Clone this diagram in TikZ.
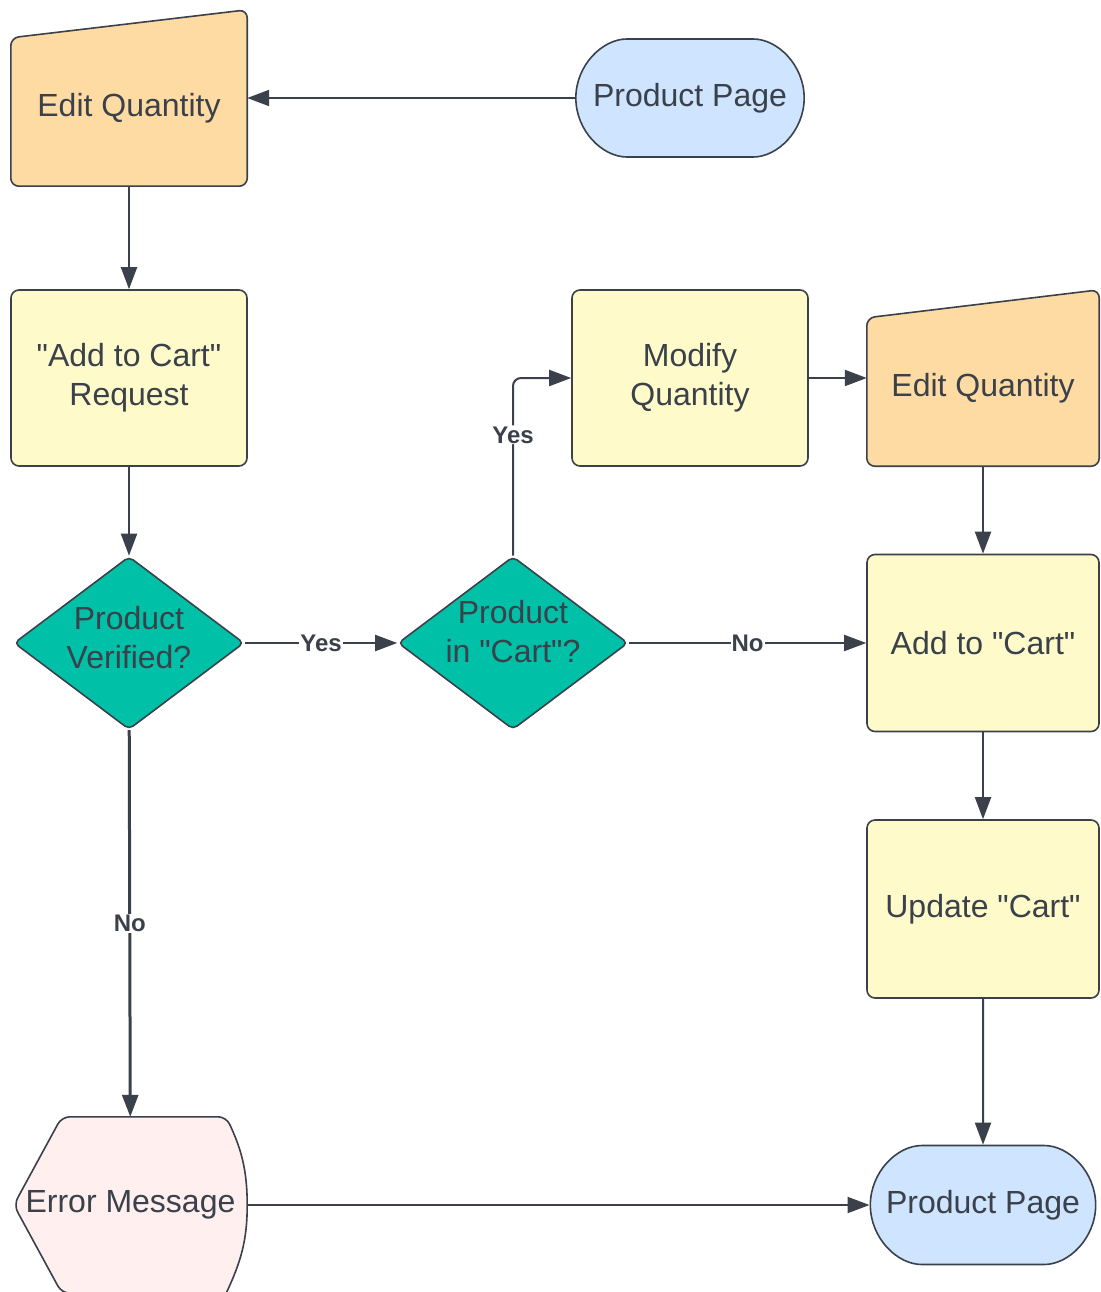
\documentclass[tikz,border=0pt]{standalone}
\usepackage{fontspec}
\setmainfont{Liberation Sans}[Ligatures=TeXOff]
\usetikzlibrary{arrows.meta,shapes.geometric,shapes.misc,calc}
\definecolor{lineclr}{HTML}{3A414A}
\definecolor{orangefill}{HTML}{FFDBA4}
\definecolor{yellowfill}{HTML}{FEFAC9}
\definecolor{bluefill}{HTML}{CFE4FF}
\definecolor{tealfill}{HTML}{00C1A7}
\definecolor{pinkfill}{HTML}{FFEFEE}
\pgfdeclarelayer{background}
\pgfsetlayers{background,main}
\newcommand{\manualin}[1]{%
	\begin{pgfonlayer}{background}
		\filldraw[shapeline,fill=orangefill] (#1.south west) -- ($(#1.north west)+(0,28)$)
			-- (#1.north east) -- (#1.south east) -- cycle;
	\end{pgfonlayer}}
\newcommand{\errdisplay}[1]{%
	\begin{pgfonlayer}{background}
		\filldraw[shapeline,fill=pinkfill] (#1.west) -- ($(#1.north west)+(48,0)$)
			-- ($(#1.north east)+(-21,0)$) [rounded corners=0pt] to[out=-65,in=90] (#1.east)
			to[out=-90,in=65] ($(#1.south east)+(-21,0)$) [rounded corners=8pt] -- ($(#1.south west)+(48,0)$) -- cycle;
	\end{pgfonlayer}}

\begin{document}
\begin{tikzpicture}[x=1pt,y=-1pt]
	\tikzset{every node/.style={text=lineclr,font=\fontsize{32}{39}\selectfont,align=center}}
	\tikzset{shapeline/.style={draw=lineclr,line width=1.6pt,rounded corners=8pt}}
	\tikzset{box/.style={shapeline,rectangle,fill=yellowfill,minimum width=236pt,minimum height=176pt}}
	\tikzset{terminal/.style={shapeline,rounded rectangle,fill=bluefill,minimum width=235pt,minimum height=118pt}}
	\tikzset{decision/.style={shapeline,diamond,aspect=1.33,inner sep=0pt,fill=tealfill,rounded corners=5pt,minimum width=230pt,minimum height=173pt}}
	\tikzset{inputbox/.style={rectangle,minimum width=236pt,minimum height=176pt,text height=44pt,text depth=7pt}}
	\tikzset{displaybox/.style={rectangle,minimum width=233pt,minimum height=176pt}}
	\tikzset{conn/.style={draw=lineclr,line width=2pt,-{Triangle[length=22pt,width=16pt]}}}
	\tikzset{lbl/.style={font=\bfseries\fontsize{24}{24}\selectfont,fill=white,inner sep=1pt}}
	\clip (0,0) rectangle (1100,1292);
	% nodes
	\node[inputbox] (editqty) at (129,98) {Edit Quantity};
	\manualin{editqty}
	\node[terminal] (prodpage) at (690,98) {Product Page};
	\node[box] (addreq) at (129,378) {"Add to Cart"\\Request};
	\node[box] (modqty) at (690,378) {Modify\\Quantity};
	\node[inputbox,minimum width=232pt] (editqtyb) at (983,378) {Edit Quantity};
	\manualin{editqtyb}
	\node[decision,label={[yshift=5pt]center:{Product\\Verified?}}] (verified) at (129,643) {};
	\node[decision,label={[yshift=11pt]center:{Product\\in "Cart"?}}] (incart) at (513,643) {};
	\node[box,minimum width=232pt,minimum height=177pt] (addcart) at (983,643) {Add to "Cart"};
	\node[box,minimum width=232pt,minimum height=178pt] (updcart) at (983,909) {Update "Cart"};
	\node[terminal,minimum width=232pt,minimum height=119pt] (prodpageb) at (983,1205) {Product Page};
	\node[displaybox] (errmsg) at (130.5,1205) {Error Message};
	\errdisplay{errmsg}
	% connectors
	\draw[conn] (prodpage) -- (editqty);
	\draw[conn] (editqty) -- (addreq);
	\draw[conn] (addreq) -- (verified);
	\draw[conn] (verified) -- node[lbl] {Yes} (incart);
	\draw[conn,rounded corners=8pt] (incart.north) |- node[lbl,pos=0.34] {Yes} (modqty.west);
	\draw[conn] (modqty) -- (editqtyb);
	\draw[conn] (incart) -- node[lbl] {No} (addcart);
	\draw[conn] (editqtyb) -- (addcart);
	\draw[conn] (addcart) -- (updcart);
	\draw[conn] (updcart) -- (prodpageb);
	\draw[conn,line width=3pt] (verified) -- node[lbl] {No} (errmsg);
	\draw[conn] (errmsg) -- (prodpageb);
\end{tikzpicture}
\end{document}
